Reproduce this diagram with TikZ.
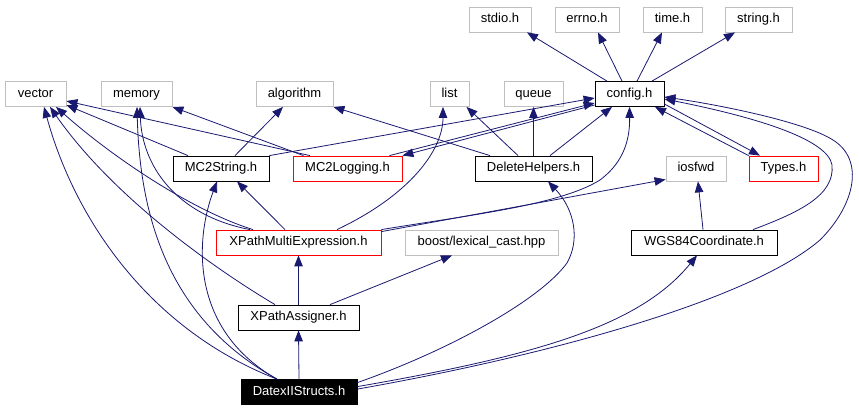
\documentclass[tikz,border=0pt]{standalone}
\usepackage{fontspec}
\setmainfont{Liberation Sans}
\usetikzlibrary{arrows.meta}
\definecolor{edgeblue}{HTML}{191970}
\definecolor{boxgray}{HTML}{BFBFBF}
\begin{document}
\begin{tikzpicture}[x=1pt,y=-1pt,
  box/.style={rectangle, draw=black, line width=0.8pt, minimum height=25pt, inner sep=0pt,
    font=\fontsize{13}{15}\selectfont, text height=9.5pt, text depth=2.5pt},
  extbox/.style={box, draw=boxgray},
  redbox/.style={box, draw=red},
  rootbox/.style={box, fill=black, text=white},
  dep/.style={draw=edgeblue, line width=0.8pt, -{Triangle[length=11pt,width=8.5pt]}}]
\useasboundingbox (0,0) rectangle (859,411);
% row 0
\node[extbox, minimum width=62pt] (stdio) at (500,19.5) {stdio.h};
\node[extbox, minimum width=64pt] (errno) at (587,19.5) {errno.h};
\node[extbox, minimum width=59pt] (time) at (672.5,19.5) {time.h};
\node[extbox, minimum width=67pt] (string) at (758.5,19.5) {string.h};
% row 1
\node[extbox, minimum width=61pt] (vector) at (35.5,94) {vector};
\node[extbox, minimum width=71pt] (memory) at (136.5,94) {memory};
\node[extbox, minimum width=77pt] (algorithm) at (294.5,94) {algorithm};
\node[extbox, minimum width=39pt] (list) at (449.5,94) {list};
\node[extbox, minimum width=59pt] (queue) at (533.5,94) {queue};
\node[box, minimum width=69pt] (config) at (629.5,94) {config.h};
% row 2
\node[box, minimum width=96pt] (mc2string) at (221,168.5) {MC2String.h};
\node[redbox, minimum width=109pt] (mc2logging) at (347.5,168.5) {MC2Logging.h};
\node[box, minimum width=117pt] (deletehelpers) at (533.5,168.5) {DeleteHelpers.h};
\node[extbox, minimum width=60pt] (iosfwd) at (696,168.5) {iosfwd};
\node[redbox, minimum width=69pt] (types) at (783.5,168.5) {Types.h};
% row 3
\node[redbox, minimum width=165pt] (xpm) at (298.5,242.5) {XPathMultiExpression.h};
\node[extbox, minimum width=153pt] (boost) at (481.5,242.5) {boost/lexical\_cast.hpp};
\node[box, minimum width=146pt] (wgs) at (704,242.5) {WGS84Coordinate.h};
% row 4
\node[box, minimum width=121pt] (xpa) at (298.5,317.5) {XPathAssigner.h};
% row 5
\node[rootbox, minimum width=116pt] (datex) at (299,392) {DatexIIStructs.h};

% config.h
\draw[dep] ([xshift=-22.5pt]config.north) -- ([xshift=27pt]stdio.south);
\draw[dep] ([xshift=-7.5pt]config.north) -- ([xshift=11pt]errno.south);
\draw[dep] ([xshift=7.5pt]config.north) -- ([xshift=-10.5pt]time.south);
\draw[dep] ([xshift=22.5pt]config.north) -- ([xshift=-23.5pt]string.south);
\draw[dep] ([yshift=-10pt]config.east) -- ([xshift=-23.5pt]types.north);
\draw[dep] (types.north west) -- ([xshift=25.5pt]config.south);
\draw[dep] ([yshift=-11pt]config.west) -- (mc2logging.north east);
% MC2String.h
\draw[dep] ([xshift=-33pt]mc2string.north) -- ([yshift=-11pt]vector.east);
\draw[dep] ([xshift=14pt]mc2string.north) -- ([xshift=-11.5pt]algorithm.south);
\draw[dep] (mc2string.north east) -- ([yshift=-4pt]config.west);
% MC2Logging.h
\draw[dep] ([xshift=-37.5pt]mc2logging.north) -- ([yshift=-7pt]vector.east);
\draw[dep] ([xshift=-44pt]mc2logging.north) -- (memory.south east);
\draw[dep] ([xshift=42pt]mc2logging.north) -- ([yshift=-9pt]config.west);
% DeleteHelpers.h
\draw[dep] ([xshift=-43.5pt]deletehelpers.north) -- (algorithm.south east);
\draw[dep] ([xshift=-15.5pt]deletehelpers.north) -- ([xshift=17pt]list.south);
\draw[dep] (deletehelpers.north) -- (queue.south);
\draw[dep] ([xshift=16.5pt]deletehelpers.north) -- ([xshift=-17.5pt]config.south);
% XPathMultiExpression.h
\draw[dep] ([xshift=38.5pt]xpm.north) .. controls (410,195) and (443,150) .. ([xshift=-6.5pt]list.south);
\draw[dep] ([xshift=-13.5pt]xpm.north) -- ([xshift=16pt]mc2string.south);
\draw[dep] ([xshift=-45.5pt]xpm.north) .. controls (190,210) and (110,155) .. ([xshift=20.5pt]vector.south);
\draw[dep] ([xshift=-48.5pt]xpm.north) .. controls (175,215) and (142,165) .. ([xshift=3.5pt]memory.south);
\draw[dep] (xpm.north east) .. controls (470,215) and (560,205) .. (600,180) .. controls (620,165) and (630,145) .. (config.south);
\draw[dep] ([yshift=-2pt]xpm.north east) -- ([yshift=-11pt]iosfwd.west);
% XPathAssigner.h
\draw[dep] (xpa.north) -- (xpm.south);
\draw[dep] ([xshift=31.5pt]xpa.north) -- ([xshift=-29.5pt]boost.south);
\draw[dep] ([xshift=-23.5pt]xpa.north) .. controls (220,272) and (115,200) .. ([xshift=14.5pt]vector.south);
% DatexIIStructs.h
\draw[dep] (datex.north) -- (xpa.south);
\draw[dep] ([xshift=-22pt]datex.north) .. controls (150,330) and (75,220) .. ([xshift=8.5pt]vector.south);
\draw[dep] ([xshift=-22pt]datex.north) .. controls (170,320) and (140,220) .. ([xshift=0.5pt]memory.south);
\draw[dep] ([xshift=-22pt]datex.north) .. controls (190,330) and (195,240) .. ([xshift=-4pt]mc2string.south);
\draw[dep] ([yshift=-3.5pt]datex.north east) .. controls (450,350) and (540,300) .. (567,263) .. controls (580,240) and (575,210) .. ([xshift=14.5pt]deletehelpers.south);
\draw[dep] ([yshift=-7.5pt]datex.north east) .. controls (540,355) and (640,325) .. ([xshift=-7pt]wgs.south);
\draw[dep] ([yshift=-10pt]datex.north east) .. controls (550,355) and (750,300) .. (820,240) .. controls (855,205) and (865,160) .. (833,140) .. controls (805,122) and (720,105) .. ([yshift=-3pt]config.east);
% WGS84Coordinate.h
\draw[dep] ([xshift=49pt]wgs.north) .. controls (800,212) and (835,195) .. (832,165) .. controls (828,140) and (760,118) .. ([yshift=-5pt]config.east);
\draw[dep] ([xshift=-1pt]wgs.north) -- ([xshift=2pt]iosfwd.south);
\end{tikzpicture}
\end{document}
